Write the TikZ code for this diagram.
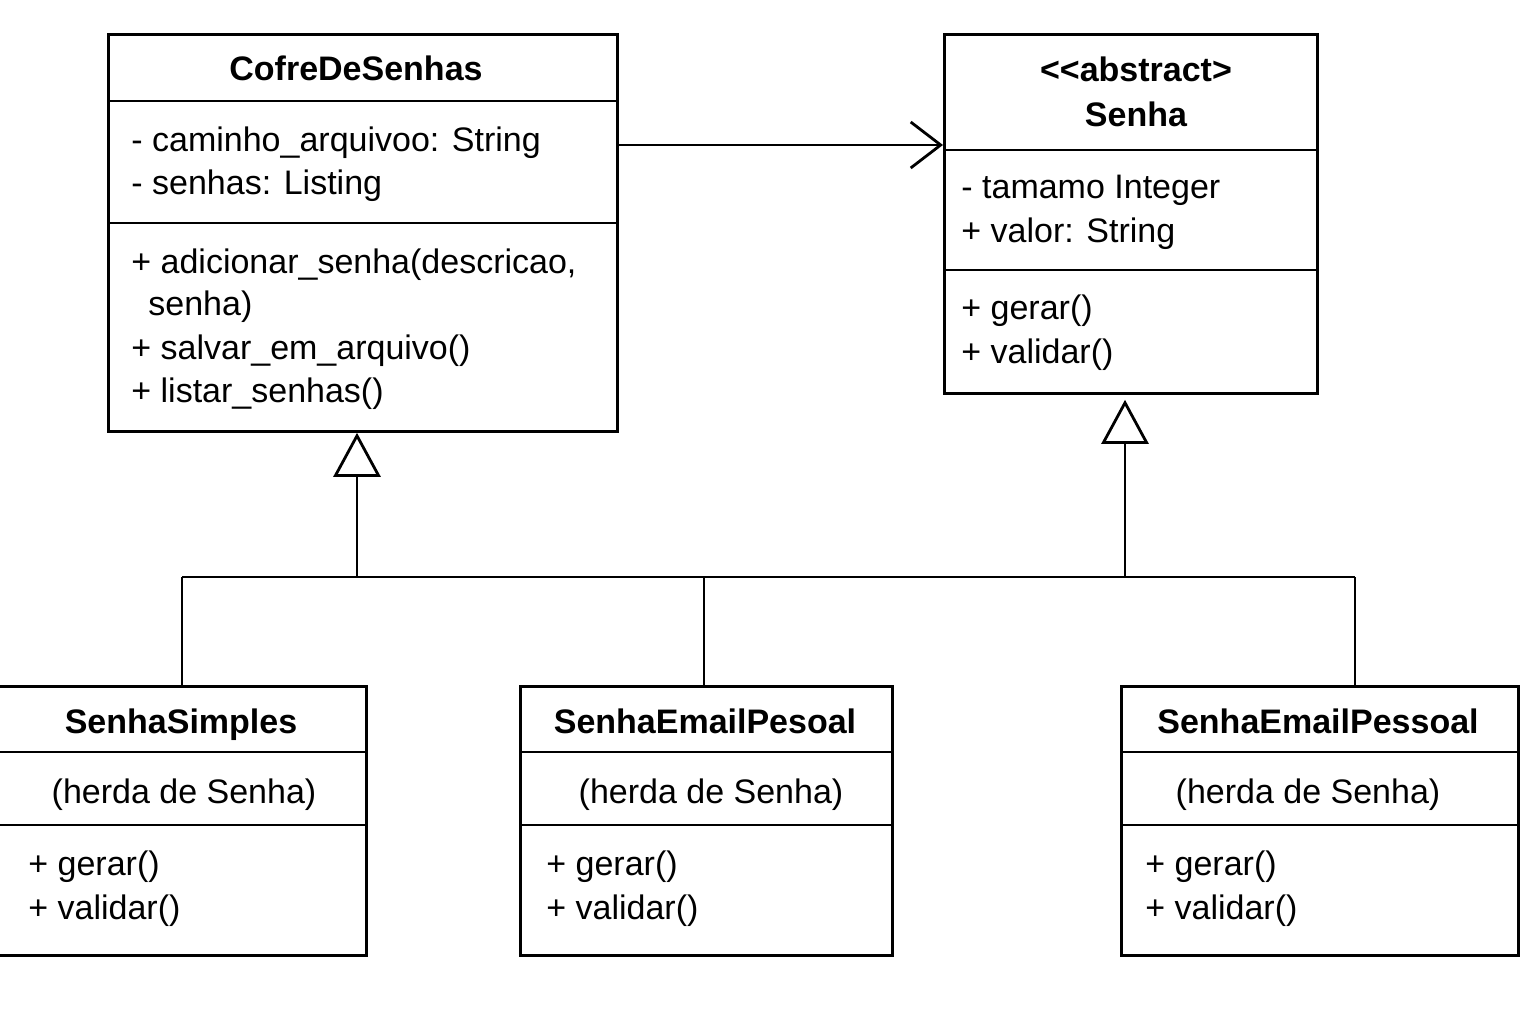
\documentclass[tikz,border=0pt]{standalone}
\usepackage{fontspec}
\setmainfont{Liberation Sans}
\usetikzlibrary{arrows.meta}
\begin{document}
\begin{tikzpicture}[x=1pt,y=-1pt, line width=2.8pt,
  box/.style={draw, rectangle, anchor=north west, inner sep=0pt},
  txt/.style={font=\fontsize{34}{40}\selectfont, inner sep=0pt, text height=30pt, text depth=4pt, anchor=west},
  cen/.style={txt, anchor=center},
  ttl/.style={cen, font=\fontsize{34}{40}\selectfont\bfseries},
  assoc/.style={-{Straight Barb[length=30pt,width=46pt]}},
  inh/.style={-{Triangle[open,length=44pt,width=47pt,fill=white]}}]
\useasboundingbox (0,0) rectangle (1536,1024);
% boxes
\node[box, minimum width=509pt, minimum height=397pt] (cofre) at (107,33) {};
\node[box, minimum width=373pt, minimum height=359pt] (senha) at (943,33) {};
\node[box, minimum width=368pt, minimum height=269pt] (ss) at (-3,685) {};
\node[box, minimum width=372pt, minimum height=269pt] (sep1) at (519,685) {};
\node[box, minimum width=397pt, minimum height=269pt] (sep2) at (1120,685) {};
% dividers
\draw (107,101) -- (616,101);
\draw (107,223) -- (616,223);
\draw (943,150) -- (1316,150);
\draw (943,270) -- (1316,270);
\foreach \a/\b in {-3/365,519/891,1120/1517}{
  \draw (\a,752) -- (\b,752);
  \draw (\a,825) -- (\b,825);
}
% CofreDeSenhas
\node[ttl] (cofreT) at (356,68) {CofreDeSenhas};
\node[txt] (cofreA1) at (130,139) {- caminho\_arquivoo: String};
\node[txt] (cofreA2) at (130,182) {- senhas: Listing};
\node[txt] (cofreM1) at (130,260) {+ adicionar\_senha(descricao,};
\node[txt] (cofreM1b) at (147,302) {senha)};
\node[txt] (cofreM2) at (130,346) {+ salvar\_em\_arquivo()};
\node[txt] (cofreM3) at (130,389) {+ listar\_senhas()};
% Senha
\node[ttl] (senhaS) at (1136,69) {{<}{<}abstract{>}};
\node[ttl] (senhaT) at (1136,114) {Senha};
\node[txt] (senhaA1) at (960,186) {- tamamo Integer};
\node[txt] (senhaA2) at (960,230) {+ valor: String};
\node[txt] (senhaM1) at (960,306) {+ gerar()};
\node[txt] (senhaM2) at (960,350) {+ validar()};
% SenhaSimples
\node[ttl] (ssT) at (181,720) {SenhaSimples};
\node[cen] (ssH) at (184,790) {(herda de Senha)};
\node[txt] (ssM1) at (27,862) {+ gerar()};
\node[txt] (ssM2) at (27,906) {+ validar()};
% SenhaEmailPesoal
\node[ttl] (sep1T) at (705,720) {SenhaEmailPesoal};
\node[cen] (sep1H) at (711,790) {(herda de Senha)};
\node[txt] (sep1M1) at (545,862) {+ gerar()};
\node[txt] (sep1M2) at (545,906) {+ validar()};
% SenhaEmailPessoal
\node[ttl] (sep2T) at (1318,720) {SenhaEmailPessoal};
\node[cen] (sep2H) at (1308,790) {(herda de Senha)};
\node[txt] (sep2M1) at (1144,862) {+ gerar()};
\node[txt] (sep2M2) at (1144,906) {+ validar()};
% connectors
\coordinate (ay) at (0,145);
\draw[assoc] (cofre.east |- ay) -- (senha.west |- ay);
\coordinate (tc) at (357,577);
\coordinate (ts) at (1125,577);
\coordinate (j1) at (182,577);
\coordinate (j2) at (704,577);
\coordinate (j3) at (1355,577);
\draw (j1) -- (j3);
\draw (j1) -- (j1 |- ss.north);
\draw (j2) -- (j2 |- sep1.north);
\draw (j3) -- (j3 |- sep2.north);
\draw[inh] (tc) -- (tc |- cofre.south);
\draw[inh] (ts) -- ([yshift=-5pt]ts |- senha.south);
\end{tikzpicture}
\end{document}
